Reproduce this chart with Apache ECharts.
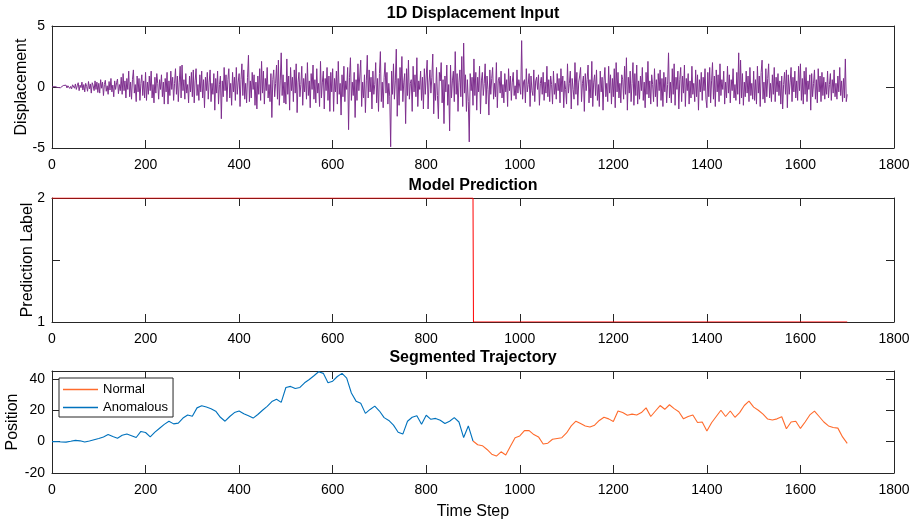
<!DOCTYPE html>
<html>
<head>
<meta charset="utf-8">
<title>Displacement, prediction and trajectory</title>
<script src="https://cdn.jsdelivr.net/npm/echarts@6/dist/echarts.min.js"></script>
<style>
  html, body { margin: 0; padding: 0; background: #ffffff; }
  #chart { width: 918px; height: 522px; }
</style>
</head>
<body>
<div id="chart"></div>
<script>
// Displacement samples, one every dispStep time steps (0 .. 1700)
const dispStep = 2;
const displacement = [
  0,0.03,-0.05,0.04,-0.02,0.06,-0.04,0.02,0.08,-0.06,0.05,-0.1,0.12,-0.03,0.07,0.15,-0.08,0.1,0.2,-0.12,0.05,-0.15,0.18,0.02,-0.1,
  0.25,-0.2,0.1,0.35,-0.3,0.15,-0.05,0.4,-0.25,0.2,-0.4,0.3,0.05,-0.35,0.45,-0.15,0.25,-0.5,0.35,0.1,-0.3,0.5,-0.2,0.4,-0.45,
  0.3,-0.5,0.6,-0.1,0.4,-0.7,0.2,0.55,-0.35,0.1,-0.6,0.45,-0.25,0.7,-0.4,0.15,-0.8,0.5,-0.2,0.35,0.65,-0.55,0.2,-0.3,0.8,
  -0.6,1.1,-0.3,0.5,-0.9,0.7,-0.2,1.3,-0.8,0.4,-1.0,0.6,1.4,-0.5,0.2,-1.2,0.9,-0.4,0.7,-1.1,0.3,1.0,-0.7,0.5,-0.9,
  1.2,-1.1,0.4,-0.6,0.9,-0.3,1.3,-0.9,0.2,-1.3,0.8,-0.5,1.1,0.3,-1.0,0.6,-0.2,1.0,-0.8,0.4,-1.4,0.7,-0.4,1.2,-1.4,
  0.5,-0.7,1.3,-0.2,0.8,-1.1,0.3,1.5,-0.6,0.9,-1.2,0.4,1.7,-0.9,1.8,-0.3,0.6,-1.0,1.1,-0.5,0.2,-1.3,0.9,-0.4,1.2,
  -0.8,1.4,-1.3,0.5,1.5,-0.7,0.2,-1.1,1.0,-0.4,1.3,-0.9,0.6,-1.7,0.8,-0.3,1.2,-1.0,0.4,1.4,-1.2,0.3,-0.6,1.1,-1.9,
  0.7,-0.5,1.3,-1.4,0.2,0.9,-2.6,0.5,-0.8,1.6,-0.3,1.0,-1.2,0.6,1.5,-0.9,0.3,-1.5,1.2,-0.4,0.8,-1.1,1.6,-0.6,0.4,
  1.1,-1.6,0.6,1.9,-0.7,1.4,-1.0,0.3,-1.3,0.8,2.6,-1.2,0.5,-0.9,1.2,-0.2,1.0,-1.5,0.4,-1.8,0.9,-0.6,1.5,-1.1,2.1,
  -0.5,1.3,-1.4,0.7,-0.3,1.6,-0.9,0.2,-1.2,1.1,-2.5,0.6,1.4,-0.8,0.3,1.8,-1.0,2.2,-1.5,0.5,2.8,-0.7,1.0,-1.3,0.4,
  -1.4,2.3,-0.6,0.9,-1.9,1.6,-0.3,0.8,-1.2,1.4,-0.5,1.9,-2.1,0.4,1.2,-0.8,0.2,1.7,-1.5,0.7,-0.4,1.1,-1.0,2.0,-0.7,
  0.5,-1.7,1.1,-0.2,1.8,-1.0,0.6,-1.3,1.5,-0.5,0.3,-1.6,2.1,-0.9,0.4,1.3,-1.8,0.7,-0.3,1.6,-1.1,0.9,-2.0,1.2,-0.4,
  1.5,-2.0,0.7,-0.4,1.3,-1.4,2.1,-0.6,0.3,-2.3,1.0,-0.8,1.7,-1.2,0.5,-0.2,1.6,-3.5,0.8,2.4,-1.1,0.4,-0.7,1.2,-2.5,
  0.6,-1.1,1.9,-0.3,0.9,2.2,-1.6,0.4,-0.9,1.0,-2.1,0.5,2.6,-0.9,1.4,-0.4,0.8,-1.8,1.3,-0.6,0.2,2.0,-1.3,0.7,-2.0,
  1.1,2.9,-1.2,0.4,-1.7,0.8,2.0,-0.5,1.2,-1.4,0.3,-0.8,-4.9,1.3,-0.6,1.9,-1.0,0.5,3.1,-2.4,0.7,-1.5,1.6,-0.3,2.5,
  -1.2,0.4,1.1,-3.0,1.5,-0.7,2.2,-1.0,0.3,0.6,-2.0,1.7,-0.4,1.0,-0.8,2.4,-1.6,0.5,-0.2,1.3,-1.1,0.8,-1.8,1.5,-0.6,
  0.9,2.2,-1.8,0.4,1.4,-0.5,0.8,2.7,-2.2,0.3,-1.1,1.6,-0.7,-2.6,1.2,0.5,2.0,-1.3,0.6,-3.0,0.9,-0.4,1.8,-1.5,0.2,
  -3.6,1.8,-0.9,0.5,1.3,-1.2,2.9,-0.6,1.1,-2.0,0.4,1.4,-0.8,2.5,-1.6,3.6,-0.5,1.0,-2.0,0.6,-1.2,-4.5,1.1,-0.3,0.8,
  -1.5,2.3,-0.7,1.2,-1.9,0.8,-0.4,1.7,-2.2,0.5,1.2,-0.7,0.3,1.9,-1.4,0.9,-0.2,-2.3,1.4,-0.6,0.7,1.6,-1.0,0.3,-0.8,
  2.0,-1.7,0.5,0.8,-0.5,1.3,-0.9,0.2,-1.3,1.1,-0.4,0.6,-1.6,1.5,-0.3,0.9,-1.1,0.4,1.2,-0.7,0.1,-1.0,1.4,-0.5,0.6,
  0.7,-0.6,3.8,-1.0,0.4,0.6,-1.3,1.5,-0.4,0.2,1.1,-1.6,0.9,-0.3,-0.7,1.4,-1.2,0.5,0.8,-0.2,1.0,-1.5,0.3,0.8,-0.6,
  1.2,-1.1,0.4,-0.5,1.7,-0.8,0.6,-1.2,0.9,0.2,-1.4,1.3,-0.6,0.3,-1.0,1.1,-0.3,0.7,-1.3,1.5,-0.4,0.9,-1.7,0.5,-0.2,
  -1.4,1.9,-0.5,0.3,1.3,-1.8,0.7,-0.2,-1.0,2.0,-0.6,1.2,-1.5,0.4,0.9,1.6,-1.2,0.3,0.9,-2.0,1.1,-0.3,0.6,1.8,-1.3,
  0.6,-0.9,2.1,-1.6,0.4,1.0,-0.7,1.4,-1.1,0.2,-1.6,1.3,-0.4,0.8,-1.9,0.5,1.6,-0.8,0.3,-1.2,1.7,-0.5,1.0,-1.4,0.7,
  -0.8,1.5,-1.7,2.0,-0.4,1.2,-0.9,0.3,-1.3,1.0,0.6,-1.0,1.7,-0.6,2.4,-1.9,0.8,-0.5,1.3,-1.2,0.3,2.0,-1.5,1.1,-0.7,
  1.8,-1.4,0.5,-1.0,0.9,-0.3,1.6,-1.1,0.4,-1.7,1.2,-0.6,2.1,-0.9,0.5,-1.4,1.0,0.2,-1.2,1.5,-0.8,0.6,-1.6,1.1,-0.3,
  1.4,-1.1,0.7,-1.6,1.2,-0.4,0.8,-1.3,0.2,2.8,-0.9,0.4,-1.3,1.5,-0.6,1.9,-1.5,0.8,-0.2,1.3,-1.8,0.6,1.6,-1.2,0.9,
  -0.5,1.8,-1.6,0.7,-0.3,1.1,-1.4,0.5,-0.9,1.7,-0.6,0.3,-1.2,1.4,-0.8,1.0,-1.9,0.6,-0.4,1.2,-1.1,0.8,-0.3,1.5,-1.0,
  -1.7,1.2,-0.8,1.6,-1.3,0.5,2.0,-1.0,0.9,-1.6,1.4,-0.4,1.0,-1.2,1.9,-0.7,0.6,-0.2,1.3,-1.4,0.4,-0.9,1.7,-0.5,1.0,
  -1.3,0.6,-0.3,1.5,-0.9,0.2,-1.1,1.2,-0.6,2.8,-1.4,2.2,-0.9,1.1,-1.5,0.4,-0.8,1.3,-0.5,0.9,-1.2,1.6,-0.7,0.3,-1.0,
  1.3,-1.1,0.6,-1.4,1.7,-0.5,0.9,-1.6,1.2,2.2,-1.0,0.4,-1.3,1.5,-0.8,0.7,1.9,-0.9,0.3,-1.2,1.0,-0.6,1.6,-1.2,0.8,
  -0.4,1.1,-0.7,0.5,-1.4,0.9,-1.8,0.2,1.2,-0.6,1.4,-1.7,1.0,-0.6,0.4,1.6,-1.2,0.8,-0.4,1.3,-0.9,0.5,-1.1,1.7,-0.3,
  1.9,-1.1,0.7,-1.4,1.3,-0.6,1.6,-1.2,0.5,-0.2,1.0,-1.9,1.1,-0.8,0.3,1.4,-1.0,0.6,-1.3,1.5,-0.4,0.9,-1.2,1.2,-0.7,
  0.8,-1.0,0.4,-0.6,1.3,-0.9,0.2,1.1,-1.1,0.6,-0.5,1.4,-0.8,0.3,-1.0,0.9,-0.4,1.6,-0.7,0.5,-1.2,0.7,-0.9,2.3,-1.2,
  -0.6
];

// Predicted class: label 2 up to the change step, label 1 afterwards
const predTime  = [0, 900, 901, 1700];
const predLabel = [2, 2, 1, 1];
const changeStep = 900;

// Position trajectory, one sample every trajStep time steps (0 .. 1700)
const trajStep = 10;
const position = [
  0,0.1,-0.2,-0.3,0.2,0.8,0.5,-0.3,0.4,1.2,
  2.0,3.0,4.5,3.2,2.2,4.0,4.8,3.8,2.6,6.5,
  5.8,3.0,6.0,8.5,11.0,13.0,11.3,11.8,15.0,17.0,
  16.2,21.5,22.8,22.0,21.0,19.4,15.5,13.0,16.0,18.5,
  19.5,17.8,16.5,15.0,17.3,20.0,22.5,25.5,27.0,25.0,
  34.5,35.2,33.8,34.5,37.5,39.6,42.0,44.5,43.5,37.5,
  38.5,41.5,43.5,40.5,31.0,25.8,24.5,18.0,20.5,22.6,
  19.5,15.3,13.5,10.5,6.0,4.8,13.0,15.5,16.5,11.0,
  16.8,14.2,14.8,13.6,11.5,13.0,15.3,12.5,2.6,10.0,
  0.4,-2.0,-2.6,-5.0,-8.0,-9.2,-6.5,-8.5,-3.0,2.5,
  3.6,7.0,7.0,4.5,3.0,-1.5,-1.0,1.5,2.0,2.5,
  5.5,10.0,13.0,11.5,10.0,9.3,10.5,13.5,15.5,14.5,
  12.8,19.5,18.5,16.8,17.5,17.0,18.5,21.5,16.0,19.5,
  23.0,20.6,23.5,21.0,19.0,14.5,16.0,17.0,12.2,12.5,
  6.7,12.0,16.0,20.0,16.0,19.5,15.5,18.5,23.0,25.8,
  22.0,20.0,17.5,14.4,13.8,14.5,15.8,8.2,12.5,13.0,
  8.4,12.5,17.0,19.4,16.0,12.5,10.0,9.0,8.6,3.0,
  -1.1
];

// Axis ranges and ticks
const xRange = [0, 1800], xInterval = 200;
const dispRange = [-5, 5], dispInterval = 5;
const predRange = [1, 2], predInterval = 0.5, predTickLabels = [1, 2];
const posRange = [-20, 45], posInterval = 20, posTickLabels = [-20, 0, 20, 40];

const seriesNames = ['Normal', 'Anomalous'];

const INK = '#262626';
const FONT = '"Liberation Sans", Arial, Helvetica, sans-serif';

const dispData = displacement.map((v, i) => [i * dispStep, v]);
const predData = predTime.map((t, i) => [t, predLabel[i]]);
const trajData = position.map((v, i) => [i * trajStep, v]);
const anomalousData = trajData.filter(p => p[0] <= changeStep);
const normalData = trajData.filter(p => p[0] >= changeStep);

const grids = [
  { left: 52, top: 26, width: 842, height: 122, outerBoundsMode: 'none' },
  { left: 52, top: 198, width: 842, height: 124, outerBoundsMode: 'none' },
  { left: 52, top: 371, width: 842, height: 102, outerBoundsMode: 'none' }
];

function axisBase() {
  return {
    axisLine: { show: true, onZero: false, lineStyle: { color: INK, width: 1 } },
    axisTick: { show: true, inside: true, length: 8, lineStyle: { color: INK, width: 1 } },
    splitLine: { show: false }
  };
}

const xAxes = [], yAxes = [];
grids.forEach((g, i) => {
  xAxes.push(Object.assign(axisBase(), {
    type: 'value', gridIndex: i, position: 'bottom',
    min: xRange[0], max: xRange[1], interval: xInterval,
    axisLabel: { color: '#000', fontSize: 14, fontFamily: FONT, margin: 10, formatter: v => String(v) },
    name: i === 2 ? 'Time Step' : '',
    nameLocation: 'middle', nameGap: 31, nameMoveOverlap: false,
    nameTextStyle: { color: '#000', fontSize: 16, fontFamily: FONT }
  }));
  xAxes.push(Object.assign(axisBase(), {
    type: 'value', gridIndex: i, position: 'top',
    min: xRange[0], max: xRange[1], interval: xInterval,
    axisLabel: { show: false }
  }));
});

const yDefs = [
  { range: dispRange, interval: dispInterval, labels: null, name: 'Displacement', gap: 22 },
  { range: predRange, interval: predInterval, labels: predTickLabels, name: 'Prediction Label', gap: 16 },
  { range: posRange, interval: posInterval, labels: posTickLabels, name: 'Position', gap: 31 }
];
yDefs.forEach((d, i) => {
  yAxes.push(Object.assign(axisBase(), {
    type: 'value', gridIndex: i, position: 'left',
    min: d.range[0], max: d.range[1], interval: d.interval,
    axisLabel: {
      color: '#000', fontSize: 14, fontFamily: FONT, margin: 7,
      formatter: v => (d.labels === null || d.labels.indexOf(v) >= 0) ? String(v) : ''
    },
    name: d.name, nameLocation: 'middle', nameGap: d.gap, nameRotate: 90, nameMoveOverlap: false,
    nameTextStyle: { color: '#000', fontSize: 16, fontFamily: FONT }
  }));
  yAxes.push(Object.assign(axisBase(), {
    type: 'value', gridIndex: i, position: 'right',
    min: d.range[0], max: d.range[1], interval: d.interval,
    axisLabel: { show: false }
  }));
});

const titles = [
  { text: '1D Displacement Input', y: 14 },
  { text: 'Model Prediction', y: 186 },
  { text: 'Segmented Trajectory', y: 358 }
];

const option = {
  backgroundColor: '#ffffff',
  animation: false,
  grid: grids,
  xAxis: xAxes,
  yAxis: yAxes,
  graphic: titles.map(t => ({
    type: 'text', x: 473, y: t.y,
    style: {
      text: t.text, fill: '#000', font: 'bold 16px ' + FONT,
      textAlign: 'center', textVerticalAlign: 'middle'
    }
  })),
  legend: {
    data: seriesNames.map(n => ({ name: n, icon: 'rect' })),
    orient: 'vertical',
    left: 59, top: 378,
    itemWidth: 35, itemHeight: 1.5, itemGap: 5,
    padding: [5, 5, 3, 4],
    borderColor: INK, borderWidth: 1, borderRadius: 0, backgroundColor: '#ffffff',
    textStyle: { color: '#000', fontSize: 13, fontFamily: FONT },
    selectedMode: false
  },
  series: [
    {
      type: 'line', name: 'displacement', xAxisIndex: 0, yAxisIndex: 0,
      data: dispData, showSymbol: false, symbol: 'none',
      lineStyle: { color: '#7E2F8E', width: 1 }, silent: true
    },
    {
      type: 'line', name: 'prediction', xAxisIndex: 2, yAxisIndex: 2,
      data: predData, showSymbol: false, symbol: 'none',
      lineStyle: { color: '#FF0000', width: 1 }, silent: true
    },
    {
      type: 'line', name: 'Anomalous', xAxisIndex: 4, yAxisIndex: 4,
      data: anomalousData, showSymbol: false, symbol: 'none',
      color: '#0072BD', lineStyle: { color: '#0072BD', width: 1.1 }, silent: true
    },
    {
      type: 'line', name: 'Normal', xAxisIndex: 4, yAxisIndex: 4,
      data: normalData, showSymbol: false, symbol: 'none',
      color: '#FF6B2C', lineStyle: { color: '#FF6B2C', width: 1.1 }, silent: true
    }
  ]
};

const chart = echarts.init(document.getElementById('chart'), null, { renderer: 'canvas' });
chart.setOption(option);
</script>
</body>
</html>
